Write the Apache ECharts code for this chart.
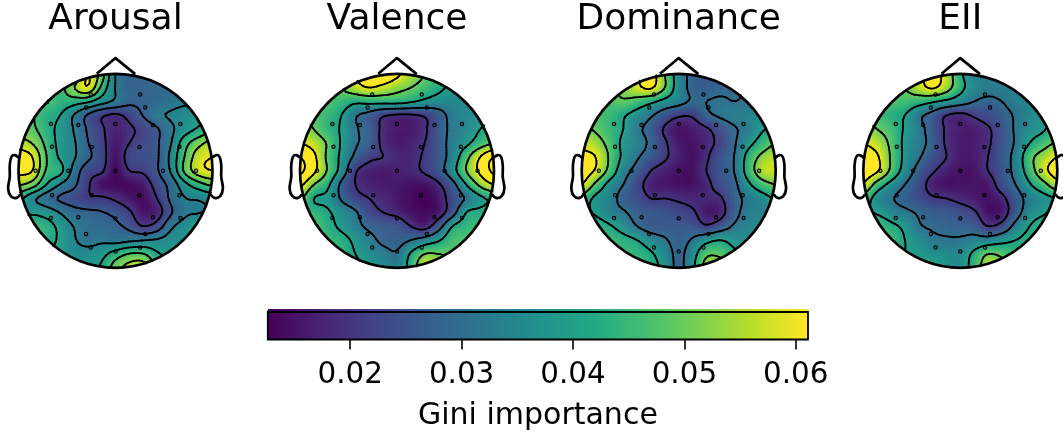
<!DOCTYPE html>
<html><head><meta charset="utf-8">
<style>html,body{margin:0;padding:0;background:#fff;overflow:hidden}#c{width:1063px;height:435px}</style>
<script src="https://cdn.jsdelivr.net/npm/echarts@6/dist/echarts.min.js"></script>
</head><body><div id="c"></div>
<script>
// Gini importance, in thousandths, 15 x 15 samples over the head box (top row first)
const arousal = [
[40,40,40,40,45,60,50,33,28,28,28,28,28,28,28],
[43,43,43,44,53,59,45,33,28,28,29,29,29,29,29],
[46,46,47,44,43,41,36,32,28,28,29,31,32,32,32],
[47,47,43,40,33,26,21,19,22,27,32,34,36,38,38],
[50,48,43,38,33,26,21,17,19,22,26,32,37,41,44],
[56,53,45,38,34,27,22,16,20,23,26,33,44,51,56],
[64,60,47,39,34,28,23,15,23,24,26,35,47,57,60],
[62,60,46,42,31,23,21,14,20,21,26,34,48,57,60],
[54,50,40,33,28,21,15,14,14,16,23,29,38,44,48],
[42,35,30,26,24,21,21,19,16,14,20,28,33,34,36],
[38,39,37,33,29,28,27,25,21,15,17,26,32,33,34],
[45,45,43,38,33,30,29,28,25,20,23,32,36,40,40],
[44,44,42,39,34,31,32,31,32,33,34,36,37,38,38],
[42,42,40,38,36,36,38,43,47,47,41,38,38,38,38],
[42,42,40,38,38,38,41,50,56,57,45,38,38,38,38]];
const valence = [
[50,50,50,50,60,68,68,62,55,50,44,42,42,42,42],
[46,46,46,50,56,60,57,53,50,46,42,38,37,37,37],
[47,47,47,45,42,43,43,43,41,38,36,35,35,35,35],
[48,48,45,40,31,27,21,19,19,21,26,33,35,36,36],
[54,50,44,39,31,27,18,16,16,19,26,32,35,40,45],
[60,56,49,39,31,27,18,16,17,20,26,33,38,45,50],
[70,62,48,38,28,22,20,18,18,21,26,34,47,60,70],
[72,62,49,36,21,17,16,17,18,21,26,36,50,62,72],
[62,50,42,28,20,17,16,16,15,15,19,27,40,52,60],
[52,40,38,29,23,20,18,16,14,13,16,24,31,38,42],
[44,44,41,36,31,23,20,18,15,14,16,26,40,42,44],
[47,47,43,38,33,28,26,25,20,17,26,40,44,45,45],
[47,47,45,43,38,33,28,27,30,34,39,46,47,47,47],
[47,47,47,44,40,36,33,31,41,50,50,48,47,47,47],
[47,47,47,45,42,38,35,33,44,58,56,50,47,47,47]];
const dominance = [
[48,48,50,52,58,64,50,35,28,27,27,27,27,27,27],
[48,48,49,52,58,61,50,35,28,27,28,29,30,30,30],
[47,47,47,49,46,42,37,33,29,30,31,30,31,31,31],
[47,47,45,41,36,31,25,21,21,28,31,33,34,36,36],
[52,49,45,40,32,27,19,15,16,19,24,29,33,39,42],
[58,54,47,38,34,28,21,16,15,18,22,29,37,44,50],
[62,60,49,38,31,26,21,17,15,19,25,30,43,52,56],
[64,59,47,34,27,20,17,15,15,20,25,30,44,55,57],
[60,48,37,30,23,17,16,15,15,18,24,28,38,46,50],
[46,38,34,27,24,20,20,19,18,18,19,27,32,36,41],
[42,39,34,31,27,26,25,23,21,16,17,27,33,34,36],
[44,44,41,36,30,26,26,26,25,21,25,31,34,36,36],
[45,45,45,43,40,35,31,27,31,37,40,37,36,36,36],
[45,45,45,45,44,41,35,28,36,48,48,42,38,38,38],
[45,45,45,45,45,43,37,28,38,54,55,46,40,40,40]];
const eii = [
[48,48,48,50,56,64,56,42,33,32,32,32,32,32,32],
[47,47,47,50,56,61,54,43,35,33,33,33,33,33,33],
[47,47,47,46,44,41,38,34,30,28,30,33,34,34,34],
[47,46,43,40,32,27,20,18,21,24,27,31,35,37,37],
[54,50,46,39,33,26,19,16,16,19,25,31,36,39,46],
[60,56,48,38,33,27,19,16,16,19,25,31,40,46,51],
[64,61,49,38,31,25,20,16,16,20,26,33,47,54,60],
[65,61,48,36,27,21,17,15,15,20,25,33,45,57,64],
[59,46,37,30,24,17,15,15,15,16,24,30,39,47,56],
[46,36,31,27,24,21,20,18,16,15,18,26,33,37,40],
[42,39,35,32,29,27,26,24,21,15,16,26,35,39,42],
[46,46,42,38,31,29,28,27,26,20,23,33,40,44,44],
[45,45,45,40,36,32,31,31,33,34,37,40,42,42,42],
[45,45,43,40,38,37,36,35,42,50,48,44,42,42,42],
[45,45,43,40,39,41,37,36,44,56,54,46,42,42,42]];
const headNames = ['Arousal','Valence','Dominance','EII'];
const headValues = [arousal, valence, dominance, eii];
const headCenters = [115.5, 397, 678.7, 960.3];
const contourLevels = [
 [20,26.7,33.3,40,46.7,53.3,60],
 [20,30,40,50,60,70],
 [20,30,40,50,60],
 [20,30,40,50,60]];
const electrodeX = [-0.255,0.255,-0.303,0.307,-0.666,-0.383,0,0.386,0.669,-0.655,-0.245,0.248,0.659,-0.824,-0.486,0,0.49,0.83,-0.655,-0.245,0.248,0.659,-0.666,-0.383,0,0.386,0.669,-0.303,0.307,-0.255,0,0.255];
const electrodeY = [0.786,0.786,0.652,0.652,0.483,0.472,0.483,0.472,0.483,0.248,0.245,0.245,0.248,0,0,0,0,0,-0.252,-0.252,-0.252,-0.252,-0.486,-0.479,-0.49,-0.479,-0.486,-0.652,-0.652,-0.79,-0.831,-0.79];
const noseLine = [[-0.193,1.0],[0,1.162],[0.203,0.997]];
const leftEar = [[-0.986,0.128],[-1.038,0.162],[-1.072,0.145],[-1.09,0.059],[-1.09,-0.062],[-1.107,-0.183],[-1.079,-0.262],[-1.021,-0.279],[-0.979,-0.241]];
const rightEar = [[0.986,0.128],[1.038,0.162],[1.072,0.145],[1.09,0.059],[1.09,-0.062],[1.107,-0.183],[1.079,-0.262],[1.021,-0.279],[0.979,-0.241]];
const colorTicks = [0.02,0.03,0.04,0.05,0.06];
const colorMin = 0.0126, colorMax = 0.0611;
const colorLabel = 'Gini importance';
const viridis = ['#440154','#482475','#414487','#355f8d','#2a788e','#21918c','#22a884','#44bf70','#7ad151','#bddf26','#fde725'];

const R = 97, CY = 170.8, N = 14;
const FONT = '"DejaVu Sans"';
const colorOf = v => echarts.color.lerp(Math.min(1, Math.max(0, (v/1000 - colorMin)/(colorMax - colorMin))), viridis);

function crAt(p0,p1,p2,p3,t){return 0.5*((2*p1)+(-p0+p2)*t+(2*p0-5*p1+4*p2-p3)*t*t+(-p0+3*p1-3*p2+p3)*t*t*t);}
function smooth(g,u,v){
  const cl=i=>Math.max(0,Math.min(N,i));
  const iu=Math.floor(u), iv=Math.floor(v), tu=u-iu, tv=v-iv, rows=[];
  for(let r=-1;r<=2;r++){const row=g[cl(iv+r)];
    rows.push(crAt(row[cl(iu-1)],row[cl(iu)],row[cl(iu+1)],row[cl(iu+2)],tu));}
  return crAt(rows[0],rows[1],rows[2],rows[3],tv);
}
const SUBS = 7;
function heatRender(g){
  return function(params,api){
    const x=api.value(0), y=api.value(1);
    if(Math.hypot(x,y)>1.12) return {type:'group',children:[]};
    const col=(x+1)*7,row=(1-y)*7,h=1/14;
    const a=api.coord([x-h,y+h]), b=api.coord([x+h,y-h]);
    const w=(b[0]-a[0])/SUBS,ht=(b[1]-a[1])/SUBS,ch=[];
    for(let j=0;j<SUBS;j++)for(let i=0;i<SUBS;i++){
      const fu=(i+0.5)/SUBS-0.5,fv=(j+0.5)/SUBS-0.5;
      const dx=x+fu/7,dy=y-fv/7;
      if(Math.hypot(dx,dy)>1.05)continue;
      ch.push({type:'rect',silent:true,shape:{x:a[0]+i*w,y:a[1]+j*ht,width:w+0.6,height:ht+0.6},
        style:{fill:colorOf(smooth(g,col+fu,row+fv))}});
    }
    return {type:'group',children:ch};
  };
}
function contourRender(g,levels){
  return function(params,api){
    const x=api.value(0),y=api.value(1);
    if(Math.hypot(x,y)>1.12) return {type:'group',children:[]};
    const col=(x+1)*7,row=(1-y)*7,h=1/14,S=5,ch=[];
    const a=api.coord([x-h,y+h]), b=api.coord([x+h,y-h]);
    const w=(b[0]-a[0])/S,ht=(b[1]-a[1])/S;
    const val=[];
    for(let j=0;j<=S;j++){val[j]=[];for(let i=0;i<=S;i++)val[j][i]=smooth(g,Math.max(0,Math.min(N,col-0.5+i/S)),Math.max(0,Math.min(N,row-0.5+j/S)));}
    const seg=(p,q)=>{
      const mx=x-h+((p[0]+q[0])/2)*2*h/S,my=y+h-((p[1]+q[1])/2)*2*h/S;
      if(Math.hypot(mx,my)>1)return;
      ch.push({type:'line',silent:true,shape:{x1:a[0]+p[0]*w,y1:a[1]+p[1]*ht,x2:a[0]+q[0]*w,y2:a[1]+q[1]*ht},
        style:{stroke:'#000',lineWidth:1.8,lineCap:'round'}});
    };
    for(let j=0;j<S;j++)for(let i=0;i<S;i++){
      const tl=val[j][i],tr=val[j][i+1],br=val[j+1][i+1],bl=val[j+1][i];
      for(const L of levels){
        const pts=[];
        if((tl<L)!==(tr<L))pts.push([i+(L-tl)/(tr-tl),j]);
        if((tr<L)!==(br<L))pts.push([i+1,j+(L-tr)/(br-tr)]);
        if((br<L)!==(bl<L))pts.push([i+(L-bl)/(br-bl),j+1]);
        if((bl<L)!==(tl<L))pts.push([i,j+(L-tl)/(bl-tl)]);
        if(pts.length===2)seg(pts[0],pts[1]);
        else if(pts.length===4){seg(pts[0],pts[3]);seg(pts[1],pts[2]);}
      }
    }
    return {type:'group',children:ch};
  };
}
const grids=[],xAxes=[],yAxes=[],series=[],titles=[];
headNames.forEach((name,k)=>{
  const g=headValues[k];
  grids.push({left:headCenters[k]-R,top:CY-R,width:2*R,height:2*R});
  const ax={show:false,type:'value',min:-1,max:1,gridIndex:k};
  xAxes.push({...ax});yAxes.push({...ax});
  titles.push({text:name,left:headCenters[k],top:2,padding:0,textAlign:'center',
    textStyle:{fontFamily:FONT,fontSize:36,fontWeight:'normal',color:'#000'}});
  const cells=[];
  g.forEach((r,j)=>r.forEach((v,i)=>cells.push([-1+i/7,1-j/7,v])));
  const base={xAxisIndex:k,yAxisIndex:k,animation:false,silent:true,progressive:0};
  series.push({...base,type:'custom',z:1,data:cells,renderItem:heatRender(g)});
  series.push({...base,type:'custom',z:2,data:[[0,0]],renderItem:(p,api)=>{
    const c=api.coord([0,0]),r=api.coord([1,0])[0]-c[0];
    return {type:'circle',silent:true,shape:{cx:c[0],cy:c[1],r:r+5},style:{fill:'none',stroke:'#fff',lineWidth:10}};
  }});
  series.push({...base,type:'custom',z:3,data:cells,renderItem:contourRender(g,contourLevels[k])});
  series.push({...base,type:'scatter',z:4,symbolSize:3.4,data:electrodeX.map((v,i)=>[v,electrodeY[i]]),
    itemStyle:{color:'rgba(0,0,0,0.25)',borderColor:'#000',borderWidth:1,opacity:1}});
  series.push({...base,type:'custom',z:5,data:[[0,0]],renderItem:(p,api)=>{
    const c=api.coord([0,0]),r=api.coord([1,0])[0]-c[0];
    return {type:'circle',silent:true,shape:{cx:c[0],cy:c[1],r:r},style:{fill:'none',stroke:'#000',lineWidth:2.7}};
  }});
  [noseLine,leftEar,rightEar].forEach((pts,n)=>{
    series.push({...base,type:'custom',z:5,clip:false,data:pts,renderItem:(p,api)=>{
      if(p.dataIndex!==0) return {type:'group',children:[]};
      return {type:'polyline',silent:true,shape:{points:pts.map(q=>api.coord(q)),smooth:n===0?0:0.35},
        style:{fill:'none',stroke:'#000',lineWidth:2.7,lineJoin:'round'}};
    }});
  });
});
// colour bar
const bi=headNames.length;
grids.push({left:267.8,top:312,width:540.2,height:27.5});
xAxes.push({gridIndex:bi,type:'value',min:colorMin,max:colorMax,
  name:colorLabel,nameLocation:'middle',nameGap:62,
  nameTextStyle:{fontFamily:FONT,fontSize:30,color:'#000'},
  splitLine:{show:false},axisLine:{show:false},
  axisTick:{show:true,length:10,lineStyle:{color:'#000',width:1.6},customValues:colorTicks},
  axisLabel:{show:true,margin:21,fontFamily:FONT,fontSize:29.4,color:'#000',customValues:colorTicks,hideOverlap:false,
    formatter:v=>v.toFixed(2)}});
yAxes.push({gridIndex:bi,type:'value',min:0,max:1,show:false});
series.push({type:'custom',xAxisIndex:bi,yAxisIndex:bi,z:1,silent:true,animation:false,data:[[colorMin,colorMax]],
  renderItem:(p,api)=>{
    const a=api.coord([api.value(0),1]),b=api.coord([api.value(1),0]);
    const stops=viridis.map((c,i)=>({offset:i/(viridis.length-1),color:c}));
    return {type:'group',children:[
      {type:'rect',silent:true,shape:{x:a[0],y:a[1]-3,width:b[0]-a[0],height:b[1]-a[1]+3},
       style:{fill:new echarts.graphic.LinearGradient(0,0,1,0,stops)}},
      {type:'rect',silent:true,shape:{x:a[0],y:a[1],width:b[0]-a[0],height:b[1]-a[1]},
       style:{fill:'none',stroke:'#000',lineWidth:1.8}}
    ]};
  }});
const chart=echarts.init(document.getElementById('c'),null,{renderer:'canvas'});
chart.setOption({animation:false,backgroundColor:'#fff',title:titles,grid:grids,xAxis:xAxes,yAxis:yAxes,series:series,tooltip:{show:false}});
</script></body></html>
